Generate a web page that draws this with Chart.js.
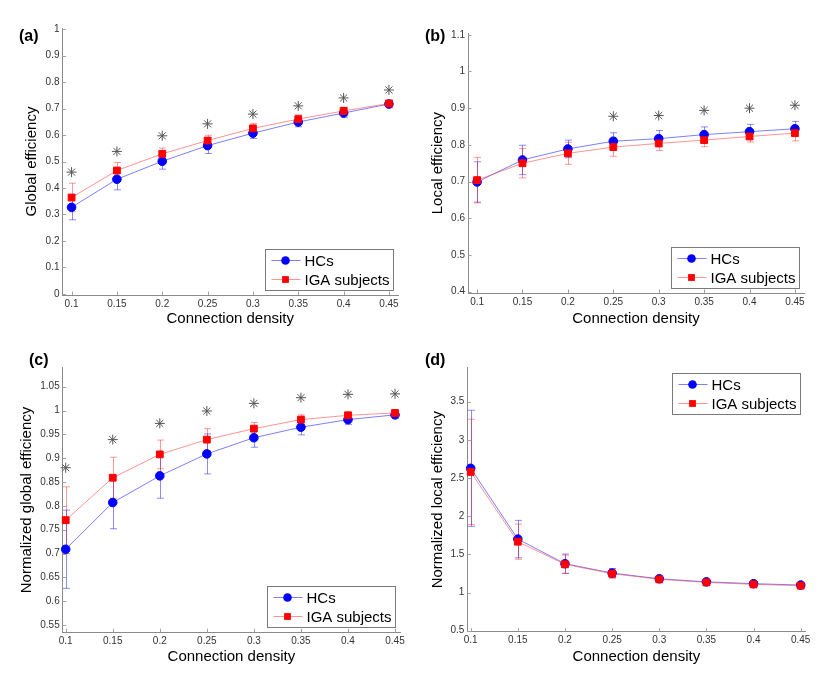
<!DOCTYPE html>
<html>
<head>
<meta charset="utf-8">
<script src="https://cdn.jsdelivr.net/npm/chart.js@4.4.1/dist/chart.umd.min.js"></script>
<style>
    body { margin: 0; background: #fff; width: 835px; height: 677px; position: relative; overflow: hidden; font-family: "Liberation Sans", Arial, sans-serif; }
    .panel { position: absolute; }
    .tag { position: absolute; font-weight: bold; font-size: 16px; line-height: 18px; color: #000; }
</style>
</head>
<body>
<div class="panel" style="left:0;top:0;width:415px;height:335px"><canvas id="chartA"></canvas></div>
<div class="panel" style="left:415px;top:0;width:420px;height:335px"><canvas id="chartB"></canvas></div>
<div class="panel" style="left:0;top:335px;width:415px;height:342px"><canvas id="chartC"></canvas></div>
<div class="panel" style="left:415px;top:335px;width:420px;height:342px"><canvas id="chartD"></canvas></div>
<div class="tag" style="left:19px;top:27px">(a)</div>
<div class="tag" style="left:425px;top:27px">(b)</div>
<div class="tag" style="left:29px;top:351px">(c)</div>
<div class="tag" style="left:425px;top:351px">(d)</div>
<script>
const FONT = '"Liberation Sans", Arial, sans-serif';

const densities = [0.1, 0.15, 0.2, 0.25, 0.3, 0.35, 0.4, 0.45];

// (a) global efficiency
const gHC = [0.327, 0.433, 0.501, 0.560, 0.607, 0.649, 0.683, 0.717];
const gHCsd = [0.047, 0.040, 0.030, 0.030, 0.020, 0.018, 0.016, 0.014];
const gIGA = [0.364, 0.466, 0.529, 0.579, 0.625, 0.660, 0.691, 0.719];
const gIGAsd = [0.054, 0.030, 0.022, 0.020, 0.018, 0.016, 0.014, 0.012];
const gStar = [0.46, 0.538, 0.597, 0.642, 0.679, 0.71, 0.74, 0.77];
const gTicks = [0, 0.1, 0.2, 0.3, 0.4, 0.5, 0.6, 0.7, 0.8, 0.9, 1];

// (b) local efficiency
const lHC = [0.699, 0.759, 0.789, 0.810, 0.817, 0.828, 0.836, 0.844];
const lHCsd = [0.055, 0.040, 0.024, 0.023, 0.022, 0.021, 0.020, 0.020];
const lIGA = [0.704, 0.750, 0.777, 0.794, 0.804, 0.813, 0.823, 0.832];
const lIGAsd = [0.062, 0.040, 0.030, 0.025, 0.019, 0.018, 0.015, 0.021];
const lStar = [null, null, null, 0.878, 0.880, 0.894, 0.900, 0.908];
const lTicks = [0.4, 0.5, 0.6, 0.7, 0.8, 0.9, 1, 1.1];

// (c) normalized global efficiency
const ngHC = [0.709, 0.807, 0.863, 0.909, 0.943, 0.965, 0.981, 0.991];
const ngHCsd = [0.082, 0.055, 0.047, 0.042, 0.020, 0.016, 0.010, 0.007];
const ngIGA = [0.770, 0.859, 0.908, 0.939, 0.962, 0.981, 0.990, 0.995];
const ngIGAsd = [0.070, 0.043, 0.030, 0.023, 0.013, 0.010, 0.007, 0.005];
const ngStar = [0.88, 0.939, 0.973, 0.999, 1.015, 1.027, 1.034, 1.035];
const ngTicks = [0.55, 0.6, 0.65, 0.7, 0.75, 0.8, 0.85, 0.9, 0.95, 1, 1.05];

// (d) normalized local efficiency
const nlHC = [2.627, 1.700, 1.378, 1.255, 1.180, 1.140, 1.116, 1.098];
const nlHCsd = [0.76, 0.245, 0.126, 0.06, 0.04, 0.03, 0.025, 0.02];
const nlIGA = [2.580, 1.666, 1.370, 1.247, 1.173, 1.133, 1.107, 1.090];
const nlIGAsd = [0.69, 0.23, 0.12, 0.06, 0.04, 0.03, 0.025, 0.02];
const nlTicks = [0.5, 1, 1.5, 2, 2.5, 3, 3.5];

const fmt = v => String(Math.round(v * 1000) / 1000);
const pts = arr => arr.map((y, i) => ({ x: densities[i], y: y })).filter(p => p.y !== null);

// error bars drawn under the markers
const errorBars = {
    id: 'errorBars',
    beforeDatasetsDraw(chart) {
        const { ctx, scales: { y } } = chart;
        chart.data.datasets.forEach((ds, i) => {
            if (!ds.errors) return;
            const meta = chart.getDatasetMeta(i);
            ctx.save();
            ctx.strokeStyle = ds.errColor;
            ctx.lineWidth = 1;
            meta.data.forEach((pt, j) => {
                const v = ds.data[j].y, e = ds.errors[j];
                const x = Math.round(pt.x) + 0.5;
                const y0 = y.getPixelForValue(v - e), y1 = y.getPixelForValue(v + e);
                ctx.beginPath();
                ctx.moveTo(x, y0); ctx.lineTo(x, y1);
                ctx.moveTo(x - 3.5, y0); ctx.lineTo(x + 3.5, y0);
                ctx.moveTo(x - 3.5, y1); ctx.lineTo(x + 3.5, y1);
                ctx.stroke();
            });
            ctx.restore();
        });
    }
};

// matlab style ticks pointing inside
const innerTicks = {
    id: 'innerTicks',
    beforeDatasetsDraw(chart) {
        const { ctx, chartArea: a, scales: { x, y } } = chart;
        ctx.save();
        ctx.strokeStyle = '#a0a0a0';
        ctx.lineWidth = 1;
        ctx.beginPath();
        x.ticks.forEach(t => {
            const px = Math.round(x.getPixelForValue(t.value)) + 0.5;
            ctx.moveTo(px, a.bottom); ctx.lineTo(px, a.bottom - 3.5);
        });
        y.ticks.forEach(t => {
            const py = Math.round(y.getPixelForValue(t.value)) + 0.5;
            ctx.moveTo(a.left, py); ctx.lineTo(a.left + 3.5, py);
        });
        ctx.stroke();
        ctx.restore();
    }
};

// boxed legend inside the axes
const boxLegend = {
    id: 'boxLegend',
    afterDraw(chart, args, opts) {
        const { ctx, chartArea: a } = chart;
        const w = 128, h = 41, inset = 5;
        const bx = Math.round(a.right - inset - w) + 0.5;
        const by = Math.round(opts.corner === 'ne' ? a.top + inset : a.bottom - inset - h) + 0.5;
        ctx.save();
        ctx.fillStyle = '#fff';
        ctx.fillRect(bx, by, w, h);
        ctx.strokeStyle = '#7a7a7a';
        ctx.lineWidth = 1;
        ctx.strokeRect(bx, by, w, h);
        const items = chart.data.datasets.filter(d => d.inLegend !== false);
        items.forEach((d, k) => {
            const cy = by + 11 + k * 19;
            ctx.strokeStyle = d.borderColor;
            ctx.beginPath();
            ctx.moveTo(bx + 6, cy); ctx.lineTo(bx + 35, cy);
            ctx.stroke();
            ctx.fillStyle = d.pointBackgroundColor;
            if (d.pointStyle === 'rect') {
                const s = d.pointRadius * Math.SQRT1_2;
                ctx.fillRect(bx + 20 - s, cy - s, 2 * s, 2 * s);
            } else {
                ctx.beginPath();
                ctx.arc(bx + 20, cy, d.pointRadius, 0, Math.PI * 2);
                ctx.fill();
            }
            ctx.fillStyle = '#000';
            ctx.font = '15px ' + FONT;
            ctx.textBaseline = 'middle';
            ctx.fillText(d.label, bx + 39, cy + 1);
        });
        ctx.restore();
    }
};

function makePanel(id, p) {
    const datasets = [
        {
            label: 'HCs', data: pts(p.hc), errors: p.hcSd, errColor: 'rgba(0,0,255,0.45)',
            borderColor: 'rgba(40,40,255,0.6)', borderWidth: 1, tension: 0, clip: false,
            pointStyle: 'circle', pointRadius: 4.3, pointBackgroundColor: '#0000ff', pointBorderColor: '#0000ff',
            pointBorderWidth: 1, order: 2
        },
        {
            label: 'IGA subjects', data: pts(p.iga), errors: p.igaSd, errColor: 'rgba(255,0,0,0.4)',
            borderColor: 'rgba(255,60,60,0.55)', borderWidth: 1, tension: 0, clip: false,
            pointStyle: 'rect', pointRadius: 4.8, pointBackgroundColor: '#ff0000', pointBorderColor: '#ff0000',
            pointBorderWidth: 1, order: 1
        }
    ];
    if (p.star) {
        datasets.push({
            label: 'p < 0.05', data: pts(p.star), showLine: false, inLegend: false, clip: false,
            pointStyle: 'star', pointRadius: 5, borderColor: '#555', pointBorderColor: '#555',
            pointBorderWidth: 1, order: 0
        });
    }
    return new Chart(document.getElementById(id), {
        type: 'line',
        data: { datasets: datasets },
        plugins: [errorBars, innerTicks, boxLegend],
        options: {
            animation: false,
            events: [],
            responsive: true,
            maintainAspectRatio: false,
            layout: { padding: { top: p.top, right: p.right, left: 0, bottom: 0 } },
            scales: {
                x: {
                    type: 'linear', min: p.xMin, max: p.xMax,
                    grid: { display: false, drawTicks: false },
                    border: { display: true, color: '#8a8a8a' },
                    afterBuildTicks: ax => { ax.ticks = densities.map(v => ({ value: v })); },
                    afterFit: ax => { ax.height = p.xAxisH; },
                    ticks: { color: '#333', font: { family: FONT, size: 10 }, padding: 3, maxRotation: 0, autoSkip: false, callback: v => fmt(v) },
                    title: { display: true, text: 'Connection density', color: '#000', font: { family: FONT, size: 15 }, padding: { top: 0, bottom: p.xTitlePad } }
                },
                y: {
                    type: 'linear', min: p.yMin, max: p.yMax,
                    grid: { display: false, drawTicks: false },
                    border: { display: true, color: '#8a8a8a' },
                    afterBuildTicks: ax => { ax.ticks = p.yTicks.map(v => ({ value: v })); },
                    afterFit: ax => { ax.width = p.yAxisW; },
                    ticks: { color: '#333', font: { family: FONT, size: 10 }, padding: 3, autoSkip: false, callback: v => fmt(v) },
                    title: { display: true, text: p.yTitle, color: '#000', font: { family: FONT, size: 15 }, padding: { top: p.yTitlePad, bottom: 0 } }
                }
            },
            plugins: {
                legend: { display: false },
                tooltip: { enabled: false },
                boxLegend: { corner: p.corner }
            }
        }
    });
}

makePanel('chartA', {
    hc: gHC, hcSd: gHCsd, iga: gIGA, igaSd: gIGAsd, star: gStar, yTicks: gTicks,
    yTitle: 'Global efficiency', yMin: -0.004, yMax: 1.004, xMin: 0.09, xMax: 0.46,
    top: 28, right: 17, yAxisW: 62.5, xAxisH: 40, xTitlePad: 6.7, yTitlePad: 23.3, corner: 'se'
});
makePanel('chartB', {
    hc: lHC, hcSd: lHCsd, iga: lIGA, igaSd: lIGAsd, star: lStar, yTicks: lTicks,
    yTitle: 'Local efficiency', yMin: 0.3965, yMax: 1.104, xMin: 0.09, xMax: 0.46,
    top: 33.3, right: 31, yAxisW: 53, xAxisH: 42, xTitlePad: 6.7, yTitlePad: 13.7, corner: 'se'
});
makePanel('chartC', {
    hc: ngHC, hcSd: ngHCsd, iga: ngIGA, igaSd: ngIGAsd, star: ngStar, yTicks: ngTicks,
    yTitle: 'Normalized global efficiency', yMin: 0.5347, yMax: 1.0899, xMin: 0.0968, xMax: 0.4553,
    top: 32.7, right: 15, yAxisW: 62.7, xAxisH: 44.7, xTitlePad: 11, yTitlePad: 17.7, corner: 'se'
});
makePanel('chartD', {
    hc: nlHC, hcSd: nlHCsd, iga: nlIGA, igaSd: nlIGAsd, star: null, yTicks: nlTicks,
    yTitle: 'Normalized local efficiency', yMin: 0.487, yMax: 3.945, xMin: 0.0964, xMax: 0.455,
    top: 32.7, right: 29.6, yAxisW: 52.3, xAxisH: 45.3, xTitlePad: 11, yTitlePad: 13.7, corner: 'ne'
});
</script>
</body>
</html>
